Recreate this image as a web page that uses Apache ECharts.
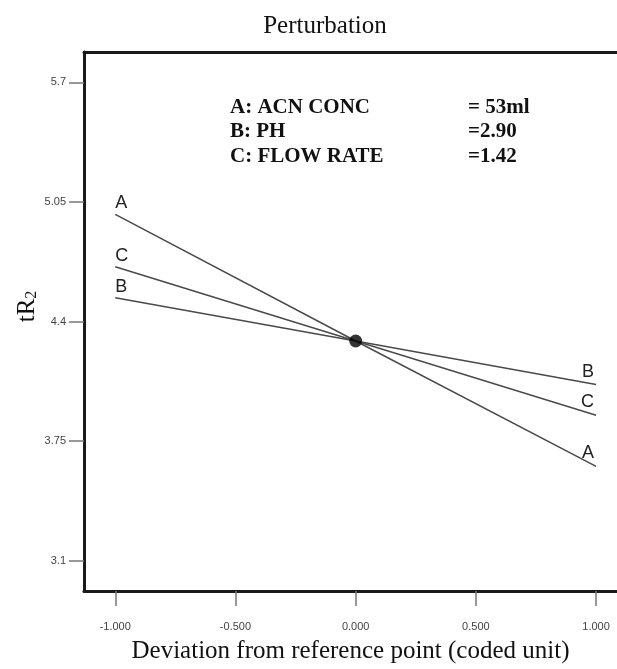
<!DOCTYPE html>
<html>
<head>
<meta charset="utf-8">
<script src="https://cdn.jsdelivr.net/npm/echarts@6/dist/echarts.min.js"></script>
<style>html,body{margin:0;padding:0;background:#fff}#c{width:617px;height:669px}</style>
</head>
<body>
<div id="c"></div>
<script>
// Deviation from reference point (coded unit)
const xValues = [-1, 0, 1];
const seriesA = [4.982, 4.294, 3.612];
const seriesB = [4.529, 4.294, 4.057];
const seriesC = [4.698, 4.294, 3.890];
const seriesNames = ['A', 'B', 'C'];
const refPoint = [0, 4.294];
const xTicks = [-1, -0.5, 0, 0.5, 1];
const yTicks = [3.1, 3.75, 4.4, 5.05, 5.7];
const yTickLabels = ['3.1', '3.75', '4.4', '5.05', '5.7'];
const factorLabels = ['A: ACN CONC', 'B: PH', 'C: FLOW RATE'];
const factorValues = ['= 53ml', '=2.90', '=1.42'];

const chart = echarts.init(document.getElementById('c'), null, {renderer: 'canvas'});
const serif = "'Liberation Serif', 'Times New Roman', serif";
const sans = "'Liberation Sans', Arial, sans-serif";
const frameLine = {show: true, onZero: false, lineStyle: {color: '#1a1a1a', width: 3}};

function buildLine(name, vals) {
  const last = vals.length - 1;
  return {
    type: 'line',
    name: name,
    symbol: 'circle',
    symbolSize: 0.1,
    showSymbol: true,
    silent: true,
    lineStyle: {color: '#4a4a4a', width: 1.5},
    itemStyle: {color: '#4a4a4a'},
    data: vals.map((v, i) => {
      const d = {value: [xValues[i], v]};
      if (i === 0) {
        d.label = {show: true, formatter: name, position: 'top', align: 'left', distance: 2,
          fontFamily: sans, fontSize: 18, color: '#222'};
      } else if (i === last) {
        d.label = {show: true, formatter: name, position: 'top', align: 'right', distance: 4,
          offset: [-2, 0], fontFamily: sans, fontSize: 18, color: '#222'};
      }
      return d;
    }),
    z: 2
  };
}

const graphics = [];
factorLabels.forEach((t, i) => {
  graphics.push({type: 'text', left: 230, top: 97 + i * 24.5,
    style: {text: t, font: "bold 21px " + serif, fill: '#111'}});
  graphics.push({type: 'text', left: 468, top: 97 + i * 24.5,
    style: {text: factorValues[i], font: "bold 21px " + serif, fill: '#111'}});
});

chart.setOption({
  animation: false,
  backgroundColor: '#fff',
  title: {
    text: 'Perturbation', left: 320, top: 9, textAlign: 'center',
    textStyle: {fontFamily: serif, fontWeight: 'normal', fontSize: 25, color: '#111'}
  },
  grid: {left: 84, right: 0, top: 52, bottom: 77, show: false},
  xAxis: [{
    type: 'value', min: -1.130, max: 1.087, position: 'bottom',
    name: 'Deviation from reference point (coded unit)',
    nameLocation: 'middle', nameGap: 48,
    nameTextStyle: {fontFamily: serif, fontSize: 25, color: '#111'},
    axisLine: frameLine,
    axisTick: {show: true, length: 15, customValues: xTicks, lineStyle: {color: '#777', width: 1.5}},
    axisLabel: {customValues: xTicks, margin: 30, fontFamily: sans, fontSize: 11, color: '#444',
      formatter: v => v.toFixed(3)},
    splitLine: {show: false}
  }, {
    type: 'value', min: -1.130, max: 1.087, position: 'top',
    axisLine: frameLine, axisTick: {show: false}, axisLabel: {show: false}, splitLine: {show: false}
  }],
  yAxis: {
    type: 'value', min: 2.935, max: 5.865,
    name: '{a|tR}{b|2}',
    nameLocation: 'middle', nameGap: 44, nameRotate: 90, nameMoveOverlap: false,
    nameTextStyle: {padding: [0, 0, 0, 30], rich: {
      a: {fontFamily: serif, fontSize: 25, color: '#111'},
      b: {fontFamily: serif, fontSize: 16, color: '#111', verticalAlign: 'bottom', padding: [10, 0, 0, 0]}
    }},
    axisLine: frameLine,
    axisTick: {show: true, length: 15, customValues: yTicks, lineStyle: {color: '#777', width: 1.5}},
    axisLabel: {customValues: yTicks, margin: 18, fontFamily: sans, fontSize: 11, color: '#444',
      formatter: v => { const i = yTicks.findIndex(t => Math.abs(t - v) < 1e-6); return i >= 0 ? yTickLabels[i] : ''; }},
    splitLine: {show: false}
  },
  graphic: graphics,
  series: [
    buildLine(seriesNames[0], seriesA),
    buildLine(seriesNames[1], seriesB),
    buildLine(seriesNames[2], seriesC),
    {type: 'scatter', data: [refPoint], symbol: 'circle', symbolSize: 13,
      itemStyle: {color: '#000'}, z: 5, silent: true}
  ]
});
</script>
</body>
</html>
